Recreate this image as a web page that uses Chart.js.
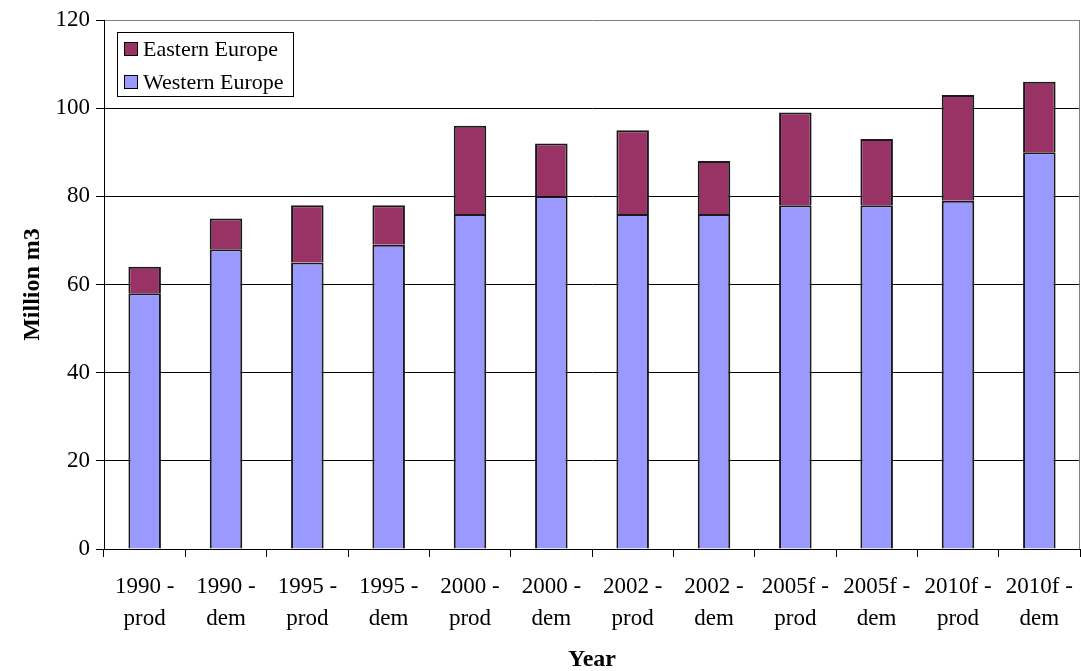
<!DOCTYPE html>
<html>
<head>
<meta charset="utf-8">
<title>Million m3 by year</title>
<script src="https://cdn.jsdelivr.net/npm/chart.js@4/dist/chart.umd.min.js"></script>
<style>
  html, body { margin: 0; padding: 0; background: #ffffff; }
  #wrap { width: 1081px; height: 671px; }
</style>
</head>
<body>
<div id="wrap"><canvas id="chart" width="1081" height="671"></canvas></div>
<script>
// Categories: year and production / demand
const categories = [
  ['1990 -', 'prod'], ['1990 -', 'dem'],
  ['1995 -', 'prod'], ['1995 -', 'dem'],
  ['2000 -', 'prod'], ['2000 -', 'dem'],
  ['2002 -', 'prod'], ['2002 -', 'dem'],
  ['2005f -', 'prod'], ['2005f -', 'dem'],
  ['2010f -', 'prod'], ['2010f -', 'dem']
];

// Million m3
const westernEurope = [58, 68, 65, 69, 76, 80, 76, 76, 78, 78, 79, 90];
const easternEurope = [6, 7, 13, 9, 20, 12, 19, 12, 21, 15, 24, 16];

// Value axis
const yMin = 0;
const yMax = 120;
const yStep = 20;

const SERIF = '"Liberation Serif", "Times New Roman", serif';

// Legend box drawn inside the plot, top left
const insideLegend = {
  id: 'insideLegend',
  afterDraw(chart) {
    const ctx = chart.ctx;
    const x = 117.5, y = 32.5, w = 176, h = 64;
    ctx.save();
    ctx.fillStyle = '#ffffff';
    ctx.fillRect(x, y, w, h);
    ctx.strokeStyle = '#000000';
    ctx.lineWidth = 1;
    ctx.strokeRect(x, y, w, h);
    const items = chart.data.datasets.slice().reverse();
    ctx.font = '22px ' + SERIF;
    ctx.textBaseline = 'middle';
    ctx.textAlign = 'left';
    items.forEach((ds, i) => {
      const cy = 49 + i * 33;
      ctx.fillStyle = ds.backgroundColor;
      ctx.fillRect(124.5, cy - 6.5, 13, 13);
      ctx.strokeStyle = '#000000';
      ctx.strokeRect(124.5, cy - 6.5, 13, 13);
      ctx.fillStyle = '#000000';
      ctx.fillText(ds.label, 143, cy + 1);
    });
    ctx.restore();
  }
};

// Gray frame on the right edge of the plot
const plotFrame = {
  id: 'plotFrame',
  beforeDatasetsDraw(chart) {
    const { ctx, chartArea } = chart;
    ctx.save();
    ctx.strokeStyle = '#808080';
    ctx.lineWidth = 1;
    ctx.beginPath();
    ctx.moveTo(Math.round(chartArea.right) - 0.5, chartArea.top);
    ctx.lineTo(Math.round(chartArea.right) - 0.5, chartArea.bottom);
    ctx.stroke();
    ctx.restore();
  }
};

new Chart(document.getElementById('chart'), {
  type: 'bar',
  data: {
    labels: categories,
    datasets: [
      {
        label: 'Western Europe',
        data: westernEurope,
        backgroundColor: '#9999FF',
        borderColor: '#1a1a1a',
        borderWidth: 2
      },
      {
        label: 'Eastern Europe',
        data: easternEurope,
        backgroundColor: '#993366',
        borderColor: '#1a1a1a',
        borderWidth: 2
      }
    ]
  },
  options: {
    responsive: false,
    animation: false,
    layout: { padding: { top: 20, right: 1, left: 0, bottom: 0 } },
    datasets: {
      bar: { categoryPercentage: 1.0, barPercentage: 0.4 }
    },
    plugins: {
      legend: { display: false },
      tooltip: { enabled: false }
    },
    scales: {
      x: {
        stacked: true,
        afterFit(scale) {
          scale.height = 122;
          scale.paddingLeft = 0;
          scale.paddingRight = 0;
        },
        grid: {
          offset: true,
          drawOnChartArea: false,
          drawTicks: true,
          tickLength: 8,
          tickColor: '#000000',
          color: '#000000'
        },
        border: { display: true, color: '#000000', width: 1 },
        ticks: {
          color: '#000000',
          padding: 14,
          maxRotation: 0,
          autoSkip: false,
          font: { family: SERIF, size: 23, lineHeight: 1.4 }
        },
        title: {
          display: true,
          text: 'Year',
          color: '#000000',
          padding: { top: 0, bottom: 0 },
          font: { family: SERIF, size: 24, weight: 'bold', lineHeight: 0.9 }
        }
      },
      y: {
        stacked: true,
        min: yMin,
        max: yMax,
        afterFit(scale) { scale.width = 104; },
        ticks: {
          stepSize: yStep,
          color: '#000000',
          padding: 6,
          font: { family: SERIF, size: 23 }
        },
        grid: {
          drawTicks: true,
          tickLength: 8,
          tickColor: '#000000',
          color: (c) => (c.tick && c.tick.value === yMax ? '#808080' : '#000000'),
          lineWidth: 1
        },
        border: { display: true, color: '#000000', width: 1 },
        title: {
          display: true,
          text: 'Million m3',
          color: '#000000',
          padding: { top: 18, bottom: 0 },
          font: { family: SERIF, size: 24, weight: 'bold', lineHeight: 1.2 }
        }
      }
    }
  },
  plugins: [plotFrame, insideLegend]
});
</script>
</body>
</html>
